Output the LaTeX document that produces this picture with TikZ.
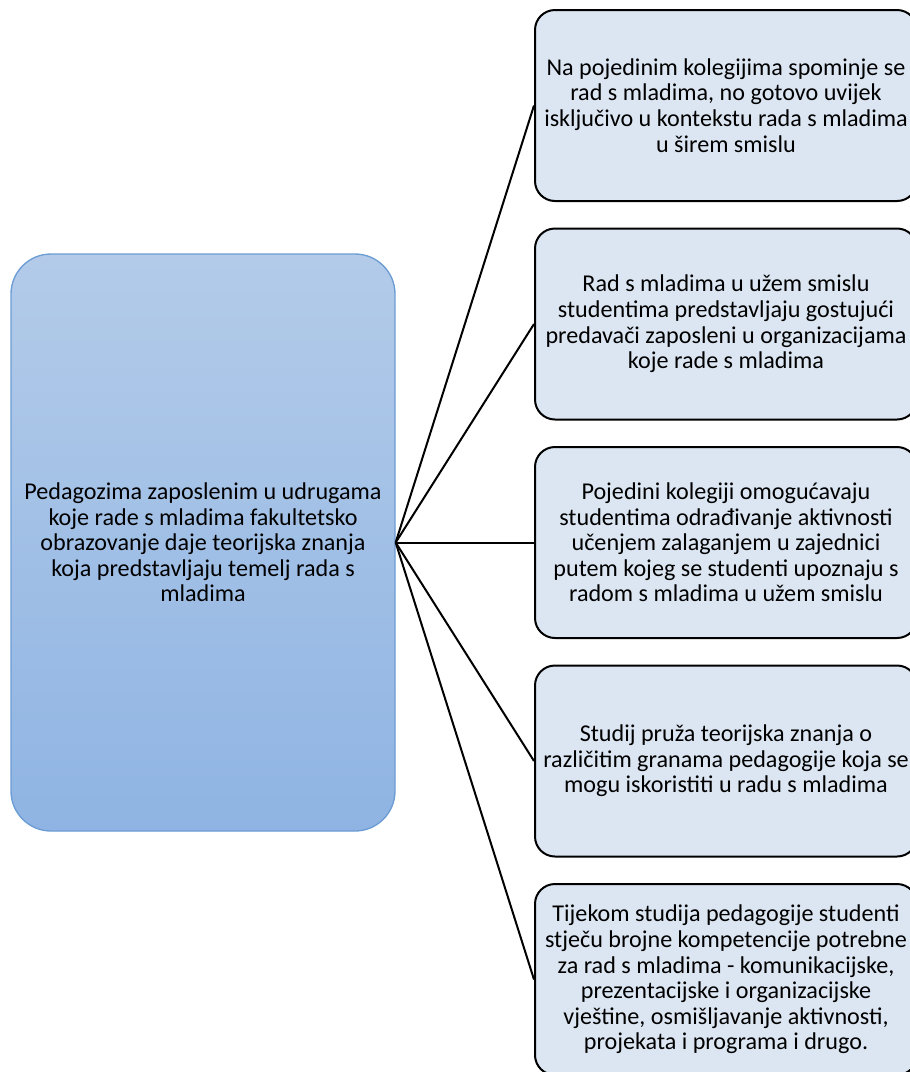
\documentclass[tikz,border=0pt]{standalone}
\usepackage{fontspec}
\setmainfont{Carlito}
\usetikzlibrary{positioning}
\definecolor{lblue}{RGB}{220, 230, 242}
\definecolor{gtop}{RGB}{179, 203, 233}
\definecolor{gbot}{RGB}{143, 180, 227}
\definecolor{gline}{RGB}{108, 156, 212}
\tikzset{glavni/.style = {draw = gline, line width = 1pt, rounded corners = 30pt,
                          top color = gtop, bottom color = gbot,
                          minimum width = 288pt, minimum height = 432.75pt,
                          align = center, inner sep = 0}}
\tikzset{stavka/.style = {draw, fill = lblue, line width = 1.5pt, rounded corners = 15pt,
                          minimum width = 286.5pt, minimum height = 143.25pt,
                          align = center, inner sep = 0}}
\tikzset{veza/.style = {line width = 1.5pt}}

\begin{document}
\begin{tikzpicture}[x = 0.75pt, y = -0.75pt, font = \fontsize{18.1}{19.2}\selectfont]
    \useasboundingbox (0, 0) rectangle (910, 1072);
    \clip (0, 0) rectangle (910, 1072);

    \node [glavni] (lijevo) at (203, 542.5) {Pedagozima zaposlenim u udrugama\\
      koje rade s mladima fakultetsko\\ obrazovanje daje teorijska znanja\\
      koja predstavljaju temelj rada s\\ mladima};

    \node [stavka] (d1) at (726, 105.5) {Na pojedinim kolegijima spominje se\\
      rad s mladima, no gotovo uvijek\\ isključivo u kontekstu rada s mladima\\
      u širem smislu};
    \node [stavka] (d2) at (726, 324) {Rad s mladima u užem smislu\\
      studentima predstavljaju gostujući\\ predavači zaposleni u organizacijama\\
      koje rade s mladima};
    \node [stavka] (d3) at (726, 542.5) {Pojedini kolegiji omogućavaju\\
      studentima odrađivanje aktivnosti\\ učenjem zalaganjem u zajednici\\
      putem kojeg se studenti upoznaju s\\ radom s mladima u užem smislu};
    \node [stavka] (d4) at (726, 761) {Studij pruža teorijska znanja o\\
      različitim granama pedagogije koja se\\ mogu iskoristiti u radu s mladima};
    \node [stavka] (d5) at (726, 979.5) {Tijekom studija pedagogije studenti\\
      stječu brojne kompetencije potrebne\\ za rad s mladima - komunikacijske,\\
      prezentacijske i organizacijske\\ vještine, osmišljavanje aktivnosti,\\
      projekata i programa i drugo.};

    \foreach \d in {d1, d2, d3, d4, d5}
      \draw [veza] (lijevo.east) -- (\d.west);
  \end{tikzpicture}
\end{document}
